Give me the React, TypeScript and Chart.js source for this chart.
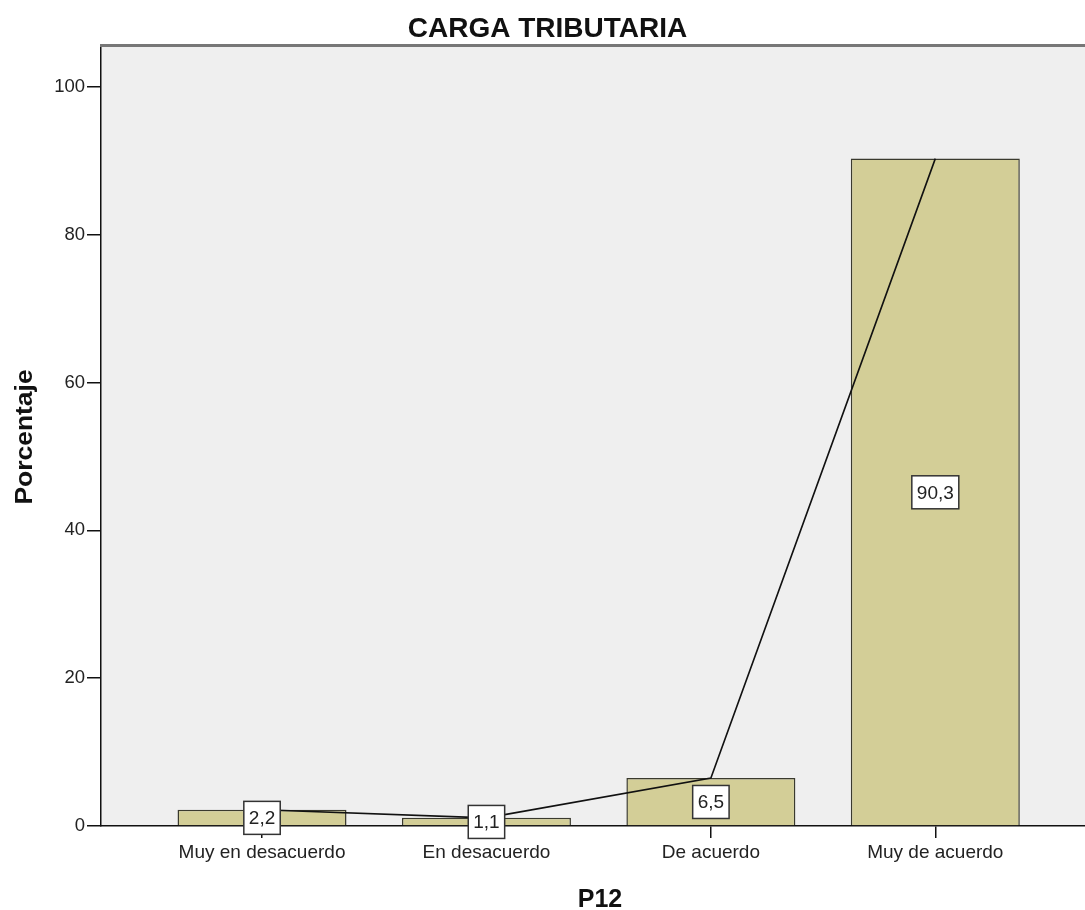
import React, { useEffect, useRef } from "react";
import { Chart, registerables } from "chart.js";

Chart.register(...registerables);

const chartTitle = "CARGA TRIBUTARIA";
const xTitle = "P12";
const yTitle = "Porcentaje";
const categories = ["Muy en desacuerdo", "En desacuerdo", "De acuerdo", "Muy de acuerdo"];
const percentages = [2.2, 1.1, 6.5, 90.3];
const valueLabels = ["2,2", "1,1", "6,5", "90,3"];
const yTicks = [0, 20, 40, 60, 80, 100];
const yMax = 105.4;
const xMin = -0.7175;
const xMax = 3.667;

const FONT = "Arial, 'Liberation Sans', sans-serif";

export default function App() {
  const ref = useRef<HTMLCanvasElement | null>(null);

  useEffect(() => {
    const canvas = ref.current;
    if (!canvas) return;

    const bgPlugin = {
      id: "bgPlugin",
      beforeDraw(chart: any) {
        const { ctx, chartArea } = chart;
        ctx.save();
        ctx.fillStyle = "#EFEFEF";
        ctx.fillRect(chartArea.left, chartArea.top, chartArea.right - chartArea.left, chartArea.bottom - chartArea.top);
        ctx.restore();
      },
      afterDraw(chart: any) {
        const { ctx, chartArea } = chart;
        ctx.save();
        ctx.strokeStyle = "#777777";
        ctx.lineWidth = 3;
        ctx.beginPath();
        ctx.moveTo(chartArea.left - 1, chartArea.top - 1.5);
        ctx.lineTo(chartArea.right, chartArea.top - 1.5);
        ctx.stroke();

        ctx.fillStyle = "#111111";
        ctx.font = `bold 28px ${FONT}`;
        ctx.textAlign = "center";
        ctx.textBaseline = "alphabetic";
        ctx.fillText(chartTitle, 547.5, 37);
        ctx.font = `bold 25px ${FONT}`;
        ctx.fillText(xTitle, 600, 907);
        ctx.save();
        ctx.translate(32, 437);
        ctx.rotate(-Math.PI / 2);
        ctx.scale(1.15, 1);
        ctx.font = `bold 23px ${FONT}`;
        ctx.fillText(yTitle, 0, 0);
        ctx.restore();
        ctx.restore();
      },
    };

    const labelPlugin = {
      id: "labelPlugin",
      afterDatasetsDraw(chart: any) {
        const { ctx } = chart;
        const meta = chart.getDatasetMeta(0);
        const yScale = chart.scales.y;
        ctx.save();
        ctx.font = `19px ${FONT}`;
        ctx.textAlign = "center";
        ctx.textBaseline = "middle";
        meta.data.forEach((el: any, i: number) => {
          const cy = yScale.getPixelForValue(percentages[i] / 2);
          const text = valueLabels[i];
          const w = ctx.measureText(text).width + 10;
          const h = 33;
          ctx.fillStyle = "#FFFFFF";
          ctx.fillRect(el.x - w / 2, cy - h / 2, w, h);
          ctx.strokeStyle = "#333333";
          ctx.lineWidth = 1.5;
          ctx.strokeRect(el.x - w / 2, cy - h / 2, w, h);
          ctx.fillStyle = "#222222";
          ctx.fillText(text, el.x, cy + 1);
        });
        ctx.restore();
      },
    };

    const chart = new Chart(canvas, {
      type: "bar",
      data: {
        datasets: [
          {
            type: "bar",
            data: percentages.map((v, i) => ({ x: i, y: v })),
            backgroundColor: "#D3CE97",
            borderColor: "#3A3A2E",
            borderWidth: 1.5,
            categoryPercentage: 1,
            barPercentage: 0.753,
            order: 2,
          } as any,
          {
            type: "line",
            data: percentages.map((v, i) => ({ x: i, y: v })),
            borderColor: "#111111",
            borderWidth: 1.6,
            pointRadius: 0,
            tension: 0,
            fill: false,
            order: 1,
          } as any,
        ],
      },
      options: {
        responsive: false,
        animation: false,
        devicePixelRatio: 1,
        layout: { padding: { top: 47, left: 0, right: 0, bottom: 0 } },
        plugins: {
          legend: { display: false },
          tooltip: { enabled: false },
          title: { display: false },
        },
        scales: {
          x: {
            type: "linear",
            min: xMin,
            max: xMax,
            offset: false,
            afterBuildTicks: (s: any) => {
              s.ticks = categories.map((_, i) => ({ value: i }));
            },
            afterFit: (s: any) => {
              s.height = 84;
            },
            ticks: {
              callback: (v: any) => categories[Math.round(Number(v))] ?? "",
              font: { family: FONT, size: 19 },
              color: "#222222",
              padding: 3,
              autoSkip: false,
              maxRotation: 0,
            },
            grid: {
              display: true,
              offset: false,
              drawOnChartArea: false,
              drawTicks: true,
              tickLength: 12,
              color: "#111111",
              lineWidth: 1.5,
            },
            border: { display: true, color: "#111111", width: 1.5 },
          },
          y: {
            min: 0,
            max: yMax,
            afterBuildTicks: (s: any) => {
              s.ticks = yTicks.map((v) => ({ value: v }));
            },
            afterFit: (s: any) => {
              s.width = 101;
            },
            ticks: {
              font: { family: FONT, size: 18.5 },
              color: "#222222",
              padding: 2,
            },
            grid: {
              display: true,
              drawOnChartArea: false,
              drawTicks: true,
              tickLength: 14,
              color: "#111111",
              lineWidth: 1.5,
            },
            border: { display: true, color: "#111111", width: 1.5 },
          },
        },
      } as any,
      plugins: [bgPlugin, labelPlugin],
    });

    return () => chart.destroy();
  }, []);

  return (
    <div style={{ position: "fixed", left: 0, top: 0, width: 1085, height: 910, background: "#FFFFFF" }}>
      <canvas ref={ref} width={1085} height={910} style={{ display: "block", width: 1085, height: 910 }} />
    </div>
  );
}
